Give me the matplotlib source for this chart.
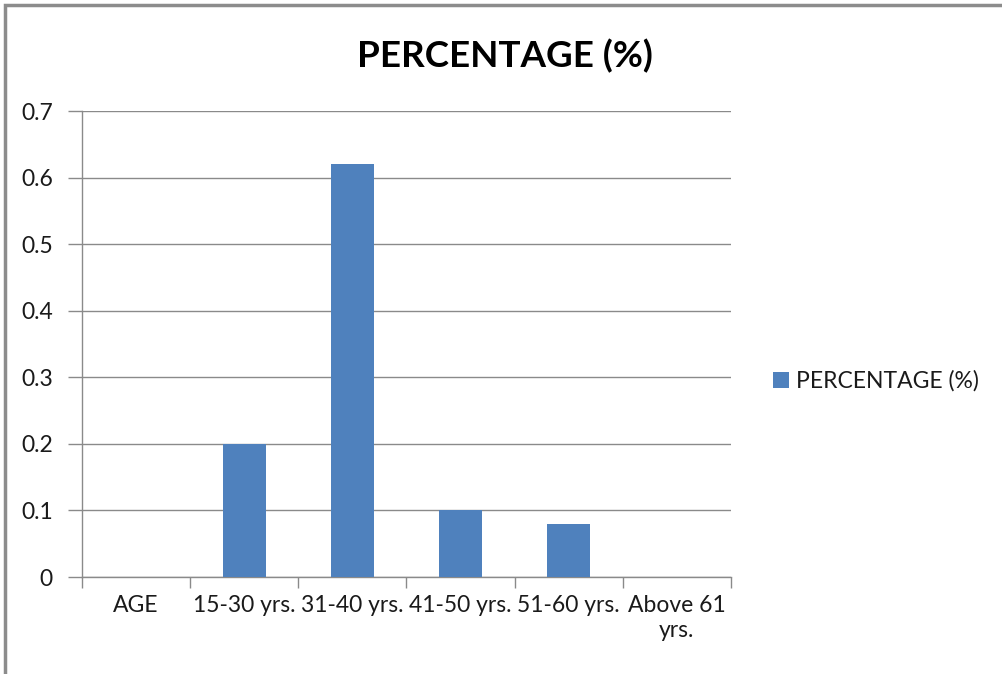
import matplotlib
matplotlib.use("Agg")
import matplotlib.pyplot as plt
from matplotlib.patches import Rectangle

categories = ["AGE", "15-30 yrs.", "31-40 yrs.", "41-50 yrs.", "51-60 yrs.", "Above 61\nyrs."]
values = [0, 0.20, 0.62, 0.10, 0.08, 0]
series_name = "PERCENTAGE (%)"
yticks = [0, 0.1, 0.2, 0.3, 0.4, 0.5, 0.6, 0.7]
ytick_labels = ["0", "0.1", "0.2", "0.3", "0.4", "0.5", "0.6", "0.7"]

W, H = 1003, 674
plt.rcParams['font.family'] = ['Lato', 'DejaVu Sans']
fig = plt.figure(figsize=(W / 100, H / 100), dpi=100)
fig.patch.set_facecolor("white")

ax = fig.add_axes([82 / W, 1 - 577 / H, (731 - 82) / W, (577 - 111) / H])

bar_color = "#4F81BD"
grid_color = "#8a8a8a"
x = list(range(len(categories)))
ax.bar(x, values, width=0.4, color=bar_color, zorder=3, label=series_name)

ax.set_xlim(-0.5, len(categories) - 0.5)
ax.set_ylim(0, 0.7)
ax.set_yticks(yticks)
ax.set_yticklabels(ytick_labels, fontsize=16.5, color="#1a1a1a")
ax.set_xticks(x)
ax.set_xticklabels(categories, fontsize=16.5, color="#1a1a1a", linespacing=1.25)
ax.tick_params(axis="x", length=0, pad=13)
ax.tick_params(axis="y", length=10, width=1, color=grid_color, pad=11)

# category separator ticks below the x axis
ax.set_xticks([i - 0.5 for i in range(len(categories) + 1)], minor=True)
ax.tick_params(axis="x", which="minor", length=8, width=1, color=grid_color)

ax.yaxis.grid(True, color=grid_color, linewidth=1, zorder=0)
ax.set_axisbelow(True)
for side in ("top", "right"):
    ax.spines[side].set_visible(False)
for side in ("left", "bottom"):
    ax.spines[side].set_color(grid_color)
    ax.spines[side].set_linewidth(1)

fig.text(505 / W, 1 - 56 / H, "PERCENTAGE (%)", ha="center", va="center",
         fontsize=26.5, fontweight="bold", color="#000000")

fig.legend(loc="center left", bbox_to_anchor=(752 / W, 1 - 381 / H),
           frameon=False, fontsize=16.5, handlelength=0.7, handleheight=0.7,
           handletextpad=0.3, labelcolor="#1a1a1a")

# outer chart border
fig.patches.append(Rectangle((5 / W, -0.05), 1.1, 1 - 5 / H + 0.05,
                             transform=fig.transFigure, fill=False,
                             edgecolor="#8c8c8c", linewidth=2.5))

fig.savefig("out.png", dpi=100)
